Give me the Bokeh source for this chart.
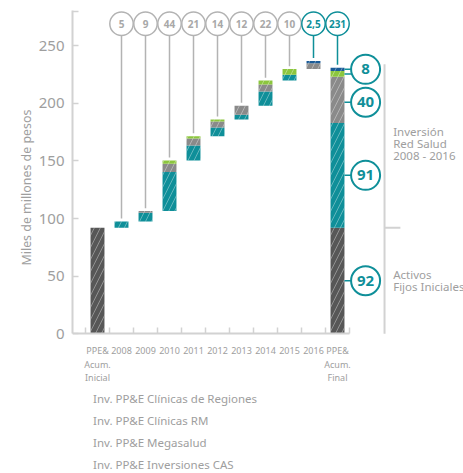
import numpy as np
from bokeh.plotting import figure
from bokeh.models import FixedTicker, Legend, LegendItem, Range1d, Title
from bokeh.embed import file_html
from bokeh.resources import INLINE
from bokeh.core.properties import value

# ---------------- data ----------------
tick_labels = ["PPE&\nAcum.\nInicial", "2008", "2009", "2010", "2011", "2012",
               "2013", "2014", "2015", "2016", "PPE&\nAcum.\nFinal"]
years = ["2008", "2009", "2010", "2011", "2012", "2013", "2014", "2015", "2016"]
inicial = 92
rm        = [5.5, 7.5, 34, 13, 7.5, 4, 12.3, 5, 0]     # Clínicas RM
regiones  = [0, 1.5, 7, 6, 5.2, 8, 6, 0, 5]          # Clínicas de Regiones
megasalud = [0, 0, 3, 2, 1.8, 0, 3.5, 5, 0]          # Megasalud
cas       = [0, 0, 0, 0, 0, 0, 0, 0, 2]              # Inversiones CAS
final_parts = {"inicial": 92, "rm": 91, "regiones": 40, "megasalud": 5, "cas": 3}
top_labels = ["5", "9", "44", "21", "14", "12", "22", "10", "2,5", "231"]
right_labels = ["8", "40", "91", "92"]
yticks = [0, 50, 100, 150, 200, 250, 280]

# ---------------- styles ----------------
DARK = "#575757"
GRAY = "#8a8a8a"
TEAL = "#0f8f99"
GREEN = "#8cc63e"
BLUE = "#1a5b97"
TXT = "#9e9e9e"
AX = "#d2d2d2"
CIRC = "#b3b3b3"
FONT = "Noto Sans"
HATCH = dict(hatch_pattern="/", hatch_color="white", hatch_alpha=0.35,
             hatch_scale=12, hatch_weight=1)

W = 0.58
PX = 1.152          # pixels per unit (y)
Y_TOP = 280.6
FRAME_H = 463
Y_BOTTOM = Y_TOP - FRAME_H / PX
p = figure(width=463, height=473, output_backend="svg", toolbar_location=None,
           x_range=Range1d(-1.042, 15.25), y_range=Range1d(Y_BOTTOM, Y_TOP),
           min_border_left=72, min_border_right=0, min_border_top=10,
           min_border_bottom=0)
p.outline_line_color = None
p.grid.visible = False
p.background_fill_color = "white"

# ---------------- yearly floating stacks ----------------
rm_a, reg_a, mega_a, cas_a = map(np.array, (rm, regiones, megasalud, cas))
totals = rm_a + reg_a + mega_a + cas_a
base = inicial + np.concatenate([[0], np.cumsum(totals)[:-1]])
xs = np.arange(1, len(years) + 1)

b = base.copy()
for vals, col in ((rm_a, TEAL), (reg_a, GRAY), (mega_a, GREEN), (cas_a, BLUE)):
    m = vals > 0
    p.vbar(x=xs[m], bottom=b[m], top=(b + vals)[m], width=W, fill_color=col,
           line_color=None, **HATCH)
    b = b + vals
year_tops = b

# initial bar
p.vbar(x=[0], bottom=[0], top=[inicial], width=W, fill_color=DARK,
       line_color=None, **HATCH)

# final bar
fx = len(years) + 1
fb = 0
final_bounds = {}
for key, col in (("inicial", DARK), ("rm", TEAL), ("regiones", GRAY),
                 ("megasalud", GREEN), ("cas", BLUE)):
    v = final_parts[key]
    p.vbar(x=[fx], bottom=[fb], top=[fb + v], width=W, fill_color=col,
           line_color=None, **HATCH)
    final_bounds[key] = (fb, fb + v)
    fb += v
final_top = fb

# ---------------- top bubbles ----------------
cx = np.concatenate([xs, [fx]])
ctop = np.concatenate([year_tops, [final_top]])
cy = 269.1
ccol = [CIRC] * (len(cx) - 2) + [TEAL] * 2
tcol = ["#a8a8a8"] * (len(cx) - 2) + [TEAL] * 2
p.segment(x0=cx, y0=ctop + 2.5, x1=cx, y1=[cy] * len(cx), line_color=ccol,
          line_width=1.5)
p.scatter(x=cx, y=[cy] * len(cx), size=23.4, fill_color="white",
          line_color=ccol, line_width=1.5)
p.text(x=cx, y=[cy] * len(cx), text=top_labels, text_align="center",
       text_baseline="middle", text_font=value(FONT), text_font_style="bold",
       text_font_size="10px", text_color=tcol)

# ---------------- right bubbles ----------------
rx = 11.17
edge = fx + W / 2
blue_mid = sum(final_bounds["cas"]) / 2
green_mid = sum(final_bounds["megasalud"]) / 2
ry = [final_top - 1.5,
      sum(final_bounds["regiones"]) / 2 - 2,
      sum(final_bounds["rm"]) / 2,
      sum(final_bounds["inicial"]) / 2]
seg_y = [blue_mid, green_mid] + ry[1:]
p.segment(x0=[edge] * len(seg_y), y0=seg_y, x1=[rx] * len(seg_y), y1=seg_y,
          line_color=TEAL, line_width=1.5)
p.scatter(x=[rx] * 4, y=ry, size=29, fill_color="white", line_color=TEAL,
          line_width=2)
p.text(x=[rx] * 4, y=ry, text=right_labels, text_align="center",
       text_baseline="middle", text_font=value(FONT), text_font_style="bold",
       text_font_size="15px", text_color=TEAL)

# ---------------- bracket + side texts ----------------
bx = 11.96
p.segment(x0=[bx], y0=[0], x1=[bx], y1=[final_top + 3], line_color=AX,
          line_width=2)
p.segment(x0=[bx], y0=[inicial], x1=[12.62], y1=[inicial], line_color=AX,
          line_width=2)
p.text(x=[12.32, 12.32],
       y=[(inicial + final_top + 3) / 2 + 2, inicial / 2],
       text=["Inversión\nRed Salud\n2008 - 2016", "Activos\nFijos Iniciales"],
       text_align="left", text_baseline="middle", text_font=value(FONT),
       text_font_size="11.5px", text_color=TXT, text_line_height=0.81)

# ---------------- axes ----------------
xa = p.xaxis[0]
xa.fixed_location = 0
centers = list(range(len(tick_labels)))
xa.ticker = FixedTicker(ticks=centers,
                        minor_ticks=[c - 0.5 for c in centers] + [centers[-1] + 0.5])
xa.major_label_overrides = {i: t for i, t in enumerate(tick_labels)}
xa.bounds = (-1.042, centers[-1] + 0.5)
xa.major_tick_in = 0
xa.major_tick_out = 0
xa.minor_tick_in = 6
xa.minor_tick_out = 0
xa.minor_tick_line_color = AX
xa.minor_tick_line_width = 1.5
xa.axis_line_color = AX
xa.axis_line_width = 2
xa.major_label_standoff = 10
xa.major_label_text_font = FONT
xa.major_label_text_font_size = "9px"
xa.major_label_text_color = TXT
xa.major_label_text_line_height = 1.06

ya = p.yaxis[0]
ya.ticker = FixedTicker(ticks=yticks)
ya.bounds = (0, Y_TOP)
ya.major_label_overrides = {280: ""}
ya.major_tick_in = 6
ya.major_tick_out = 0
ya.minor_tick_in = 0
ya.minor_tick_out = 0
ya.major_tick_line_color = AX
ya.major_tick_line_width = 1.5
ya.axis_line_color = AX
ya.axis_line_width = 2
ya.major_label_standoff = 8
ya.major_label_text_font = FONT
ya.major_label_text_font_size = "15px"
ya.major_label_text_color = TXT

# y-axis title, placed along the 0..280 part of the axis
p.add_layout(Title(text="Miles de millones de pesos", align="left", offset=208,
                   standoff=2, text_font=FONT, text_font_style="normal",
                   text_font_size="12.4px", text_color=TXT), "left")

# ---------------- legend ----------------
items = []
for name, col in (("Inv. PP&E Clínicas de Regiones", GRAY),
                  ("Inv. PP&E Clínicas RM", TEAL),
                  ("Inv. PP&E Megasalud", GREEN),
                  ("Inv. PP&E Inversiones CAS", BLUE)):
    r = p.vbar(x=[], top=[], width=W, fill_color=col, line_color=None)
    items.append(LegendItem(label=name, renderers=[r]))
legend = Legend(items=items, location=(-2, 0), orientation="vertical",
                glyph_width=12, glyph_height=5, label_standoff=11,
                label_height=17, spacing=5, padding=0, margin=0,
                border_line_color=None, background_fill_alpha=0,
                label_text_font=FONT, label_text_font_size="11.5px",
                label_text_color=TXT)
p.add_layout(legend)

open("out.html", "w").write(file_html(p, INLINE))
